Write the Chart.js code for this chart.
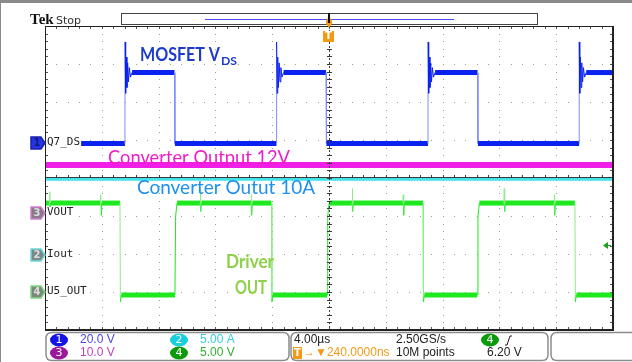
<!DOCTYPE html>
<html lang="en">
<head>
  <meta charset="UTF-8" />
  <title>Tek scope - MOSFET VDS / driver</title>
  <script src="https://cdn.jsdelivr.net/npm/chart.js"></script>
  <style>
    html, body { margin: 0; padding: 0; background: #fff; }
    #wrap { width: 632px; height: 362px; }
  </style>
</head>
<body>
  <div id="wrap"><canvas id="scope" width="632" height="362"></canvas></div>

  <script>
    // time base 4 us/div, 10 div, trigger in the middle
    const timeTicks = [-20, -16, -12, -8, -4, 0, 4, 8, 12, 16, 20];
    // vertical is plotted in divisions, 8 div
    const divTicks = [-4, -3, -2, -1, 0, 1, 2, 3, 4];

    // channel settings: units per div and ground marker position (div)
    const chScale = { ch1: 20, ch2: 5, ch3: 10, ch4: 5 };
    const chPos = { ch1: 0.93, ch2: -2.03, ch3: -0.92, ch4: -3.0 };
    const trigLevel = 6.2; // V on ch4

    // CH1 Q7_DS (MOSFET drain-source), us / V
    const vdsRise = [-14.37, -3.70, 6.97, 17.61];
    const vdsFall = [-10.88, -0.21, 10.46];
    const vdsLow = -0.5;
    const vdsHigh = 36.9;
    // ringing after turn-off edge: delay (us) and volts
    const ringDt = [0.01, 0.05, 0.09, 0.14, 0.19, 0.25, 0.31, 0.39, 0.50];
    const ringV = [53.0, 26.0, 45.0, 29.0, 42.0, 32.0, 39.5, 34.5, 36.9];

    // CH3 VOUT (V) and CH2 Iout (A)
    const voutTime = [-20, 20];
    const voutVolts = [12.6, 12.6];
    const ioutTime = [-20, 20];
    const ioutAmps = [10.0, 10.0];

    // CH4 U5_OUT driver output
    const drvFall = [-14.72, -4.05, 6.62, 17.32];
    const drvRise = [-10.85, -0.14, 10.44];
    const drvHigh = 11.7;
    const drvLow = -0.4;
    const glitchT = [-19.7, -16.1, -9.08, -5.49, 1.62, 5.21, 12.32, 15.85];
    const glitchPk = [13.2, 12.8, 13.6, 12.8, 13.6, 12.8, 13.6, 12.8];
    const glitchDip = [10.6, 10.1, 10.6, 10.1, 10.6, 10.1, 10.6, 10.1];

    function buildTrace(startV, endV, events) {
      events.sort((a, b) => a[0] - b[0]);
      const pts = [{ x: -20, y: startV }];
      events.forEach(([t, seq]) => seq.forEach(([dt, v]) => pts.push({ x: t + dt, y: v })));
      pts.push({ x: 20, y: endV });
      return pts;
    }

    const vdsEvents = [];
    vdsRise.forEach(t => vdsEvents.push([t, [[0, vdsLow]].concat(ringDt.map((d, i) => [d, ringV[i]]))]));
    vdsFall.forEach(t => vdsEvents.push([t, [[0, vdsHigh], [0.03, vdsLow]]]));
    const vdsPts = buildTrace(vdsLow, vdsHigh, vdsEvents);

    const drvEvents = [];
    drvFall.forEach(t => drvEvents.push([t, [[0, drvHigh], [0.03, drvLow - 0.9], [0.1, drvLow]]]));
    drvRise.forEach(t => drvEvents.push([t, [[0, drvLow], [0.05, 10.0], [0.15, drvHigh]]]));
    glitchT.forEach((t, i) => drvEvents.push([t, [[0, drvHigh], [0.02, glitchPk[i]], [0.05, glitchDip[i]], [0.09, drvHigh]]]));
    const drvPts = buildTrace(drvHigh, drvLow, drvEvents);

    const toDiv = (pts, ch) => pts.map(p => ({ x: p.x, y: chPos[ch] + p.y / chScale[ch] }));

    function trace(label, pts, color, edgeColor, band) {
      return {
        label: label,
        data: pts,
        borderColor: color,
        borderWidth: band,
        pointRadius: 0,
        tension: 0,
        segment: {
          borderWidth: c => c.p0.parsed.y === c.p1.parsed.y ? band : 1,
          borderColor: c => {
            if (c.p0.parsed.y === c.p1.parsed.y) return color;
            return (c.p1.parsed.x - c.p0.parsed.x) < 0.035 ? edgeColor : color;
          }
        }
      };
    }

    const datasets = [
      trace('Iout', toDiv(ioutTime.map((t, i) => ({ x: t, y: ioutAmps[i] })), 'ch2'), '#3ee2e8', '#3ee2e8', 3),
      trace('VOUT', toDiv(voutTime.map((t, i) => ({ x: t, y: voutVolts[i] })), 'ch3'), '#f01ee6', '#f01ee6', 6),
      trace('Q7_DS', toDiv(vdsPts, 'ch1'), '#0a22f0', '#7d8cff', 5),
      trace('U5_OUT', toDiv(drvPts, 'ch4'), '#1ee81e', '#86f086', 5)
    ];

    function rrect(ctx, x, y, w, h, r) {
      ctx.beginPath();
      ctx.moveTo(x + r, y);
      ctx.lineTo(x + w - r, y);
      ctx.quadraticCurveTo(x + w, y, x + w, y + r);
      ctx.lineTo(x + w, y + h - r);
      ctx.quadraticCurveTo(x + w, y + h, x + w - r, y + h);
      ctx.lineTo(x + r, y + h);
      ctx.quadraticCurveTo(x, y + h, x, y + h - r);
      ctx.lineTo(x, y + r);
      ctx.quadraticCurveTo(x, y, x + r, y);
      ctx.closePath();
    }

    // draws text squeezed/stretched to a given width (Calibri-ish look with Lato)
    function fitText(ctx, txt, x, y, width, align) {
      const w = ctx.measureText(txt).width;
      const k = width / w;
      const x0 = align === 'center' ? x - width / 2 : x;
      ctx.save();
      ctx.textAlign = 'left';
      ctx.translate(x0, y);
      ctx.scale(k, 1);
      ctx.fillText(txt, 0, 0);
      ctx.restore();
    }

    function chBadge(ctx, cx, cy, num, fill) {
      ctx.fillStyle = fill;
      ctx.beginPath();
      ctx.ellipse(cx, cy, 9, 6.5, 0, 0, Math.PI * 2);
      ctx.fill();
      ctx.fillStyle = '#fff';
      ctx.font = '11px "DejaVu Sans"';
      ctx.textAlign = 'center';
      ctx.textBaseline = 'middle';
      ctx.fillText(num, cx, cy + 0.5);
      ctx.textAlign = 'left';
    }

    function marker(ctx, y, num, fill, edge, digit) {
      y = Math.round(y);
      ctx.beginPath();
      ctx.moveTo(31, y - 6);
      ctx.lineTo(41, y - 6);
      ctx.lineTo(45, y);
      ctx.lineTo(41, y + 6);
      ctx.lineTo(31, y + 6);
      ctx.closePath();
      ctx.fillStyle = fill;
      ctx.fill();
      ctx.strokeStyle = edge;
      ctx.lineWidth = 1.5;
      ctx.stroke();
      ctx.fillStyle = digit;
      ctx.font = 'bold 10px "DejaVu Sans"';
      ctx.textAlign = 'center';
      ctx.textBaseline = 'middle';
      ctx.fillText(num, 37, y + 0.5);
      ctx.textAlign = 'left';
    }

    const scopeFrame = {
      id: 'scopeFrame',
      beforeDraw(chart) {
        const ctx = chart.ctx;
        ctx.save();
        ctx.fillStyle = '#fff';
        ctx.fillRect(0, 0, chart.width, chart.height);
        ctx.restore();
      },
      beforeDatasetsDraw(chart) {
        const ctx = chart.ctx;
        const xs = chart.scales.x, ys = chart.scales.y;
        const { left, right, top, bottom } = chart.chartArea;
        ctx.save();
        // dotted graticule
        ctx.fillStyle = '#9c9c9c';
        timeTicks.forEach(t => {
          const x = Math.round(xs.getPixelForValue(t));
          for (let k = -20; k <= 20; k++) ctx.fillRect(x, Math.round(ys.getPixelForValue(k / 5)), 1, 1);
        });
        divTicks.forEach(d => {
          const y = Math.round(ys.getPixelForValue(d));
          for (let k = -25; k <= 25; k++) ctx.fillRect(Math.round(xs.getPixelForValue(k * 0.8)), y, 1, 1);
        });
        // border ticks
        ctx.fillStyle = '#555';
        for (let k = -25; k <= 25; k++) {
          const x = Math.round(xs.getPixelForValue(k * 0.8));
          ctx.fillRect(x, top, 1, 3);
          ctx.fillRect(x, bottom - 3, 1, 3);
        }
        for (let k = -20; k <= 20; k++) {
          const y = Math.round(ys.getPixelForValue(k / 5));
          ctx.fillRect(left, y, 3, 1);
          ctx.fillRect(right - 3, y, 3, 1);
        }
        ctx.restore();
      },
      afterDatasetsDraw(chart) {
        const ctx = chart.ctx;
        const xs = chart.scales.x, ys = chart.scales.y;
        const { left, right, top, bottom } = chart.chartArea;
        const cx = Math.round(xs.getPixelForValue(0)) + 0.5;
        const cy = Math.round(ys.getPixelForValue(0)) - 0.5;
        ctx.save();
        // centre crosshair
        ctx.strokeStyle = '#3a3a3a';
        ctx.lineWidth = 1;
        ctx.beginPath();
        ctx.moveTo(left, cy); ctx.lineTo(right, cy);
        ctx.stroke();
        ctx.setLineDash([2, 2]);
        ctx.beginPath();
        ctx.moveTo(cx, top); ctx.lineTo(cx, bottom);
        ctx.stroke();
        ctx.setLineDash([]);
        ctx.fillStyle = '#3a3a3a';
        for (let k = -25; k <= 25; k++) ctx.fillRect(Math.round(xs.getPixelForValue(k * 0.8)), cy - 2.5, 1, 2);
        for (let k = -20; k <= 20; k++) ctx.fillRect(cx - 2.5, Math.round(ys.getPixelForValue(k / 5)), 5, 1);
        // frame
        ctx.strokeStyle = '#222';
        ctx.lineWidth = 1;
        ctx.beginPath();
        ctx.moveTo(left + 0.5, bottom); ctx.lineTo(left + 0.5, top + 0.5); ctx.lineTo(right, top + 0.5);
        ctx.stroke();
        ctx.lineWidth = 2;
        ctx.beginPath();
        ctx.moveTo(right, top); ctx.lineTo(right, bottom); ctx.lineTo(left, bottom);
        ctx.stroke();

        // trigger level arrow (ch4)
        const ty = Math.round(ys.getPixelForValue(chPos.ch4 + trigLevel / chScale.ch4)) + 0.5;
        ctx.fillStyle = '#1aa01a';
        ctx.beginPath();
        ctx.moveTo(603, ty); ctx.lineTo(608, ty - 3.5); ctx.lineTo(608, ty + 3.5); ctx.closePath();
        ctx.fill();
        ctx.fillRect(607, ty - 0.5, 4, 1);

        // channel labels sit on a white patch, like the scope does
        ctx.font = '11px "DejaVu Sans Mono"';
        ctx.textBaseline = 'middle';
        [['Q7_DS', 'ch1'], ['VOUT', 'ch3'], ['Iout', 'ch2'], ['U5_OUT', 'ch4']].forEach(([name, ch]) => {
          const y = Math.round(ys.getPixelForValue(chPos[ch]));
          const w = ctx.measureText(name).width;
          ctx.fillStyle = '#fff';
          ctx.fillRect(46, y - 6, w + 2, 12);
          ctx.fillStyle = '#222';
          ctx.fillText(name, 47, y - 0.5);
        });

        // annotations
        ctx.textBaseline = 'alphabetic';
        ctx.fillStyle = '#1f3cc8';
        ctx.font = 'bold 19px Lato';
        fitText(ctx, 'MOSFET V', 140, 61, 80);
        ctx.font = 'bold 12px Lato';
        fitText(ctx, 'DS', 221, 65, 16);
        ctx.fillStyle = '#ee1ec6';
        ctx.font = '19px Lato';
        fitText(ctx, 'Converter Output 12V', 108, 164, 182);
        ctx.fillStyle = '#1e90f0';
        fitText(ctx, 'Converter Outut 10A', 137, 194, 178);
        ctx.fillStyle = '#8ed04a';
        ctx.font = 'bold 19px Lato';
        fitText(ctx, 'Driver', 250, 268, 48, 'center');
        fitText(ctx, 'OUT', 251, 294, 32, 'center');
        ctx.restore();
      },
      afterDraw(chart) {
        const ctx = chart.ctx;
        const ys = chart.scales.y;
        const xs = chart.scales.x;
        ctx.save();
        // outer screenshot frame
        ctx.fillStyle = '#8a8a8a';
        ctx.fillRect(0, 0, chart.width, 3);
        ctx.fillRect(0, 0, 1, chart.height);

        // header
        ctx.fillStyle = '#111';
        ctx.font = 'bold 15px "Liberation Serif"';
        ctx.textBaseline = 'alphabetic';
        ctx.fillText('Tek', 30, 24);
        ctx.fillStyle = '#333';
        ctx.font = '11px "DejaVu Sans"';
        ctx.fillText('Stop', 56, 24);
        ctx.strokeStyle = '#444';
        ctx.lineWidth = 1;
        ctx.strokeRect(121.5, 13.5, 416, 11);
        ctx.strokeStyle = '#4a4aff';
        ctx.beginPath();
        ctx.moveTo(205, 19.5); ctx.lineTo(454, 19.5);
        ctx.stroke();
        const tx = Math.round(xs.getPixelForValue(0));
        ctx.fillStyle = '#f29a16';
        ctx.beginPath();
        ctx.ellipse(tx, 22, 3, 4, 0, 0, Math.PI * 2);
        ctx.fill();
        ctx.beginPath();
        ctx.moveTo(tx - 3, 23); ctx.lineTo(tx + 3, 23); ctx.lineTo(tx, 28); ctx.closePath();
        ctx.fill();
        ctx.fillStyle = '#111';
        ctx.fillRect(tx - 1, 13, 2, 10);
        // trigger position T
        ctx.fillStyle = '#f29a16';
        ctx.fillRect(tx - 6, 31, 11, 11);
        ctx.fillStyle = '#fff';
        ctx.font = 'bold 10px "DejaVu Sans"';
        ctx.textAlign = 'center';
        ctx.textBaseline = 'middle';
        ctx.fillText('T', tx - 0.5, 36.5);
        ctx.textAlign = 'left';

        // channel ground markers
        marker(ctx, ys.getPixelForValue(chPos.ch1), '1', '#2434e0', '#1a22b0', '#101a80');
        marker(ctx, ys.getPixelForValue(chPos.ch3), '3', '#8a7a8a', '#d080d0', '#ddd');
        marker(ctx, ys.getPixelForValue(chPos.ch2), '2', '#7a8a8a', '#70d8d8', '#ddd');
        marker(ctx, ys.getPixelForValue(chPos.ch4), '4', '#7a8a7a', '#80d880', '#ddd');

        // readout panels
        ctx.strokeStyle = '#8c8c8c';
        ctx.lineWidth = 1.5;
        rrect(ctx, 46, 332.5, 243, 28, 6); ctx.stroke();
        rrect(ctx, 291, 332.5, 257, 28, 6); ctx.stroke();
        rrect(ctx, 551, 332.5, 90, 28, 6); ctx.stroke();

        chBadge(ctx, 59, 340, '1', '#1414e6');
        chBadge(ctx, 59, 353, '3', '#9a189a');
        chBadge(ctx, 179, 340, '2', '#18d0dc');
        chBadge(ctx, 179, 353, '4', '#0d9a0d');
        ctx.font = '12px "Liberation Sans"';
        ctx.textBaseline = 'middle';
        ctx.fillStyle = '#4646f0'; ctx.fillText('20.0 V', 80, 340);
        ctx.fillStyle = '#c040c0'; ctx.fillText('10.0 V', 80, 353);
        ctx.fillStyle = '#30d0e0'; ctx.fillText('5.00 A', 200, 340);
        ctx.fillStyle = '#30b030'; ctx.fillText('5.00 V', 200, 353);

        ctx.fillStyle = '#222';
        ctx.fillText('4.00\u00b5s', 294, 340);
        ctx.fillText('2.50GS/s', 396, 340);
        ctx.fillText('10M points', 396, 353);
        ctx.fillText('6.20 V', 487, 353);
        chBadge(ctx, 490, 340, '4', '#0d9a0d');
        ctx.strokeStyle = '#222';
        ctx.lineWidth = 1;
        ctx.beginPath();
        ctx.moveTo(505, 345); ctx.lineTo(507, 345); ctx.lineTo(510, 336); ctx.lineTo(512, 336);
        ctx.stroke();

        ctx.fillStyle = '#f29a16';
        ctx.fillRect(293, 347, 9, 12);
        ctx.fillStyle = '#fff';
        ctx.font = 'bold 10px "DejaVu Sans"';
        ctx.textAlign = 'center';
        ctx.fillText('T', 297.5, 353.5);
        ctx.textAlign = 'left';
        ctx.fillStyle = '#f29a16';
        ctx.font = '12px "Liberation Sans"';
        ctx.fillText('\u2192\u25bc240.0000ns', 303, 353);
        ctx.restore();
      }
    };

    new Chart(document.getElementById('scope'), {
      type: 'line',
      data: { datasets: datasets },
      options: {
        responsive: false,
        animation: false,
        layout: { padding: { left: 45, right: 19, top: 26, bottom: 32 } },
        scales: {
          x: { type: 'linear', min: timeTicks[0], max: timeTicks[timeTicks.length - 1], display: false },
          y: { type: 'linear', min: divTicks[0], max: divTicks[divTicks.length - 1], display: false }
        },
        plugins: { legend: { display: false }, tooltip: { enabled: false } },
        elements: { point: { radius: 0 } }
      },
      plugins: [scopeFrame]
    });
  </script>
</body>
</html>
